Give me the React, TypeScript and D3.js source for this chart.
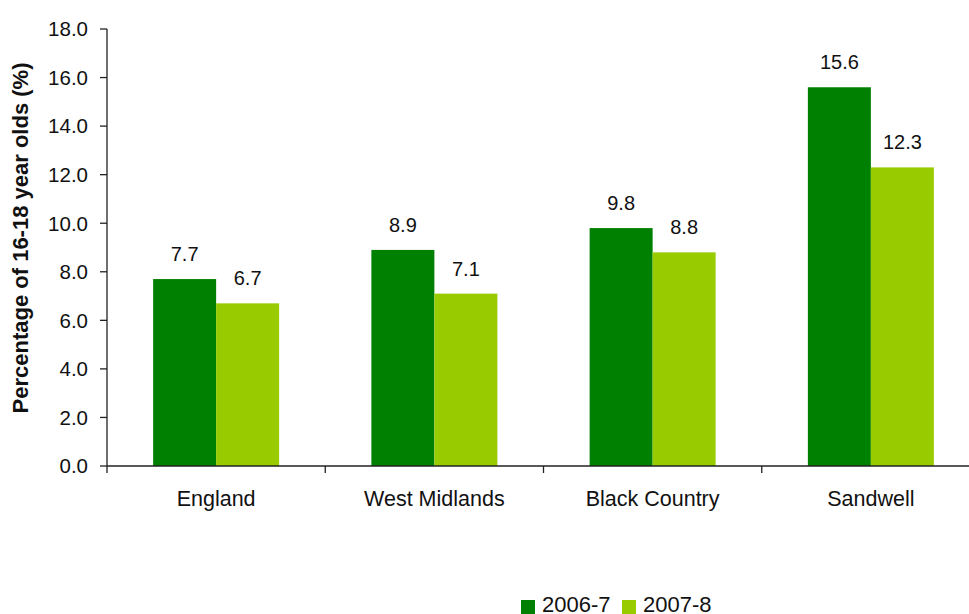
import React from "react";
import * as d3 from "d3";

const categories = ["England", "West Midlands", "Black Country", "Sandwell"];
const seriesNames = ["2006-7", "2007-8"];
const values2006 = [7.7, 8.9, 9.8, 15.6];
const values2007 = [6.7, 7.1, 8.8, 12.3];
const yTicks = [0, 2, 4, 6, 8, 10, 12, 14, 16, 18];
const colors = ["#008000", "#99cc00"];

const W = 969;
const H = 614;
const left = 107;
const right = 980;
const top = 29;
const bottom = 466;
const font = "'Liberation Sans', Arial, sans-serif";

export default function App() {
  const x = d3.scaleBand<string>().domain(categories).range([left, right]).paddingInner(0).paddingOuter(0);
  const y = d3.scaleLinear().domain([0, 18]).range([bottom, top]);
  const barW = 63;
  const series = [values2006, values2007];
  const xSub = d3.scaleBand<string>().domain(seriesNames).range([0, barW * 2]);
  const groupOffset = (x.bandwidth() - barW * 2) / 2;

  return (
    <svg width={W} height={H} style={{ position: "absolute", left: 0, top: 0, background: "#fff" }}>
      {/* bars */}
      {categories.map((c, i) =>
        seriesNames.map((s, j) => {
          const v = series[j][i];
          const bx = (x(c) as number) + groupOffset + (xSub(s) as number);
          return (
            <g key={c + s}>
              <rect x={bx} y={y(v)} width={xSub.bandwidth()} height={bottom - y(v)} fill={colors[j]} />
              <text
                x={bx + xSub.bandwidth() / 2}
                y={y(v) - 18}
                textAnchor="middle"
                fontFamily={font}
                fontSize={20}
                fill="#111"
              >
                {v.toFixed(1)}
              </text>
            </g>
          );
        })
      )}
      {/* y axis */}
      <line x1={left} x2={left} y1={top} y2={bottom} stroke="#222" strokeWidth={1.3} />
      {yTicks.map((t) => (
        <g key={t}>
          <line x1={left - 7} x2={left} y1={y(t)} y2={y(t)} stroke="#222" strokeWidth={1.3} />
          <text x={88} y={y(t)} dy="0.36em" textAnchor="end" fontFamily={font} fontSize={20.5} fill="#111">
            {t.toFixed(1)}
          </text>
        </g>
      ))}
      {/* x axis */}
      <line x1={left} x2={W} y1={bottom} y2={bottom} stroke="#222" strokeWidth={1.3} />
      {categories.map((c) => (
        <line key={c} x1={x(c) as number} x2={x(c) as number} y1={bottom} y2={bottom + 7} stroke="#222" strokeWidth={1.3} />
      ))}
      {categories.map((c) => (
        <text
          key={c + "l"}
          x={(x(c) as number) + x.bandwidth() / 2}
          y={506}
          textAnchor="middle"
          fontFamily={font}
          fontSize={21.5}
          fill="#111"
        >
          {c}
        </text>
      ))}
      {/* y label */}
      <text
        transform={`translate(28, 238) rotate(-90)`}
        textAnchor="middle"
        fontFamily={font}
        fontSize={22}
        fontWeight="bold"
        fill="#111"
      >
        Percentage of 16-18 year olds (%)
      </text>
      {/* legend */}
      {seriesNames.map((s, j) => {
        const lx = 521 + j * 101;
        return (
          <g key={s}>
            <rect x={lx} y={600} width={14} height={14} fill={colors[j]} />
            <text x={lx + 21} y={612} fontFamily={font} fontSize={22} fill="#111">
              {s}
            </text>
          </g>
        );
      })}
    </svg>
  );
}
